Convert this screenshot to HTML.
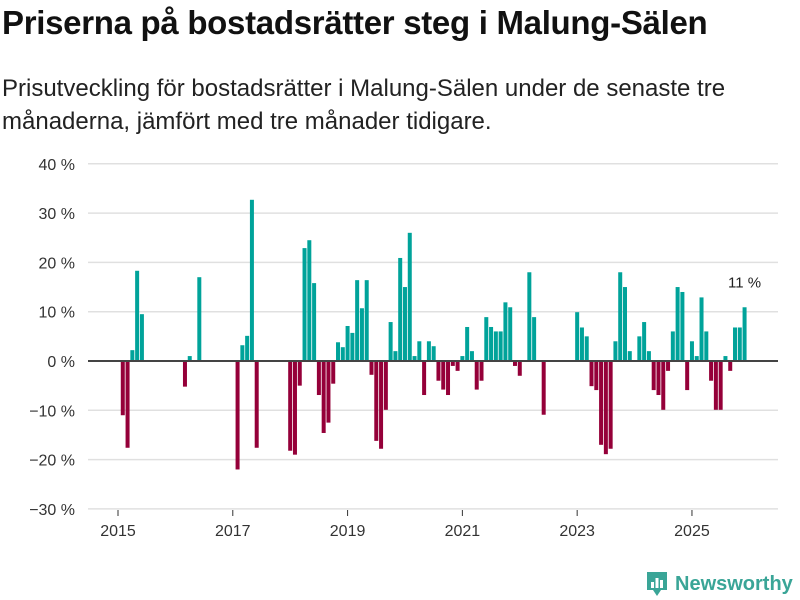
<!DOCTYPE html>
<html><head><meta charset="utf-8"><style>
body{margin:0;width:800px;height:600px;background:#fff;font-family:"Liberation Sans","DejaVu Sans",sans-serif;color:#111;overflow:hidden;position:relative}
h1{position:absolute;left:2px;top:4px;margin:0;font-size:33px;font-weight:bold;letter-spacing:-0.3px}
p{position:absolute;left:2px;top:72px;margin:0;font-size:24px;line-height:33px;color:#222;width:770px}
svg{position:absolute;left:0;top:0}
</style></head><body>
<h1>Priserna på bostadsrätter steg i Malung-Sälen</h1>
<p>Prisutveckling för bostadsrätter i Malung-Sälen under de senaste tre månaderna, jämfört med tre månader tidigare.</p>
<svg id="chart" width="800" height="600"></svg>
<script>
const values=[null,-11,-17.6,2.2,18.3,9.5,null,null,null,null,null,null,null,null,-5.2,1.0,null,17.0,null,null,null,null,null,null,null,-22,3.2,5.1,32.7,-17.6,null,null,null,null,null,null,-18.2,-19,-5,22.9,24.5,15.8,-6.9,-14.6,-12.5,-4.6,3.8,2.8,7.1,5.7,16.4,10.7,16.4,-2.8,-16.2,-17.8,-9.9,7.9,2.0,20.9,15.0,26.0,1.0,4.0,-6.9,4.0,3.0,-4.0,-5.8,-6.9,-1.0,-2.0,1.0,6.9,2.0,-5.8,-4.0,8.9,6.9,6.0,6.0,11.9,10.9,-1.0,-3.0,null,18.0,8.9,null,-10.9,null,null,null,null,null,null,9.9,6.8,5.0,-5.1,-5.9,-17,-18.9,-17.8,4,18,15,2,null,5,7.9,2,-5.9,-6.9,-9.9,-2,6,15,14,-5.9,4,1,12.9,6,-4,-9.9,-9.9,1,-2,6.8,6.8,10.9];
const startYear=2015;
const yTicks=[40,30,20,10,0,-10,-20,-30];
const xTickYears=[2015,2017,2019,2021,2023,2025];
const lastLabel="11 %";
const NS="http://www.w3.org/2000/svg";
const svg=document.getElementById('chart');
function y(v){return 361-v*4.93;}
function x(i){return 118+4.783*i;}
function mk(t,a){const e=document.createElementNS(NS,t);for(const k in a)e.setAttribute(k,a[k]);svg.appendChild(e);return e;}
yTicks.forEach(t=>{
  if(t!==0){const g=mk('line',{x1:88,x2:778,y1:y(t),y2:y(t),stroke:'#e0e0e0','stroke-width':1.5});
  
  }
  const l=mk('text',{x:75,y:y(t)+6,'text-anchor':'end','font-size':16,fill:'#333'});
  l.textContent=String(t).replace('-','\u2212')+' %';
  
  
});
xTickYears.forEach(yr=>{
  const xi=x((yr-startYear)*12);
  const tk=mk('line',{x1:xi,x2:xi,y1:510,y2:516,stroke:'#333','stroke-width':1});
  
  
  const l=mk('text',{x:xi,y:536,'text-anchor':'middle','font-size':16,fill:'#333'});
  l.textContent=yr;
  
  
});
values.forEach((v,i)=>{
  if(v===null)return;
  const r=mk('rect',{x:x(i)-2,width:4,y:Math.min(y(v),y(0)),height:Math.abs(y(v)-y(0)),fill:v>=0?'#00a39a':'#950039'});
  
  
});
const z=mk('line',{x1:88,x2:778,y1:y(0),y2:y(0),stroke:'#444','stroke-width':2});


const li=values.length-1;
const lab=mk('text',{x:x(li),y:y(values[li])-20,'text-anchor':'middle','font-size':15,fill:'#222'});
lab.textContent=lastLabel;


</script>
<div style="position:absolute;left:645px;top:570px;display:flex;align-items:center;gap:6px">
<svg width="24" height="28" style="position:static"><path d="M2 2h20v18h-6l-4 6-4-6H2z" fill="#3aa597"/><rect x="6" y="12" width="3" height="6" fill="#fff"/><rect x="10.5" y="8" width="3" height="10" fill="#fff"/><rect x="15" y="10" width="3" height="8" fill="#fff"/></svg>
<span style="font-size:20px;font-weight:bold;color:#3aa597">Newsworthy</span></div>
</body></html>
